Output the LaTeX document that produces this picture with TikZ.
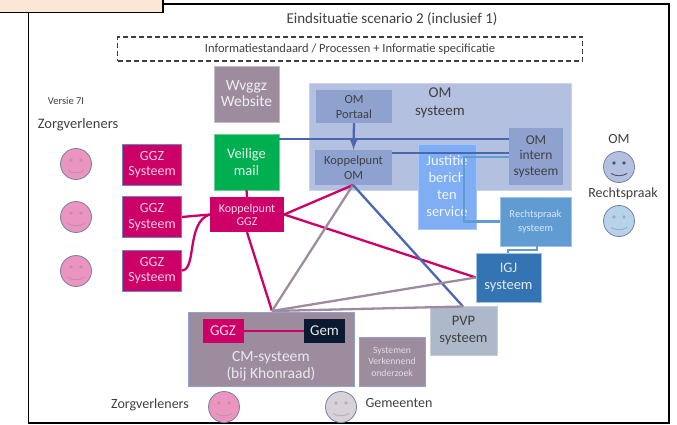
\documentclass[tikz,border=0pt]{standalone}
\usepackage{fontspec}
\setmainfont{Carlito}
\usetikzlibrary{calc}
\definecolor{ggzred}{HTML}{CC0066}
\definecolor{mailgreen}{HTML}{00B050}
\definecolor{cmgrey}{HTML}{9C8C9E}
\definecolor{ombg}{HTML}{B4C0DF}
\definecolor{ombox}{HTML}{8FA2CF}
\definecolor{omline}{HTML}{4A68B0}
\definecolor{justblue}{HTML}{7FAEF5}
\definecolor{rechtblue}{HTML}{609CD2}
\definecolor{igjblue}{HTML}{3474B2}
\definecolor{pvpgrey}{HTML}{ADB9CA}
\definecolor{gemdark}{HTML}{0B1A30}
\definecolor{txtgrey}{HTML}{404040}
\definecolor{notepeach}{HTML}{FCE6D6}
\tikzset{
  every node/.style={text=txtgrey, font=\fontsize{14}{16}\selectfont, align=center, inner sep=0pt},
  ggzbox/.style={draw=omline!80!white, line width=.7pt, minimum width=59pt, fill=ggzred, minimum height=41pt, text=white!80!ggzred, font=\fontsize{14}{15.5}\selectfont},
  ombx/.style={fill=ombox, text=black!75},
  redline/.style={ggzred, line width=2.3pt},
  greyline/.style={cmgrey, line width=2.3pt},
  blueline/.style={omline, line width=2.3pt},
  lblueline/.style={rechtblue, line width=2.2pt},
  smiley/.pic={
    \draw[fill=#1, draw=ombox!80!black, line width=.8pt] (0,0) circle (15.5pt);
    \fill[black!55!#1] (-5,-4) circle (1.8pt) (5,-4) circle (1.8pt);
    \draw[black!55!#1, line width=.9pt] (-8,6.5) .. controls (-3,9.5) and (3,9.5) .. (8,6.5);
  },
}
\begin{document}
\begin{tikzpicture}[x=1pt, y=-1pt]
  \useasboundingbox (0,0) rectangle (677,425);
  % outer frame and note
  \draw[black, line width=1.4pt] (28.5,0) -- (28.5,423) -- (669,423) -- (669,4) -- (28.5,4);
  \node[draw=black, line width=1.4pt, fill=notepeach, minimum width=170pt, minimum height=17pt] (note) at (78,4) {};
  \node[font=\fontsize{15}{17}\selectfont] (title) at (392,19) {Eindsituatie scenario 2 (inclusief 1)};
  \node[draw=txtgrey, dash pattern=on 5pt off 3pt, line width=1.1pt, minimum width=465pt, minimum height=24pt, font=\fontsize{12.5}{14}\selectfont] (info) at (350,49) {Informatiestandaard / Processen + Informatie specificatie};
  \node[font=\fontsize{10.5}{12}\selectfont] (versie) at (66,101) {Versie 7I};
  \node[font=\fontsize{14.5}{16}\selectfont] (zorgtop) at (78,125) {Zorgverleners};
  % om block
  \node[fill=ombg, draw=ombg!70!white, minimum width=262pt, minimum height=107pt] (omsys) at (440,137) {};
  \node[text=black!75, font=\fontsize{15}{17.5}\selectfont] (omlabel) at (440,103) {OM\\systeem};
  \node[ombx, minimum width=76pt, minimum height=33pt, font=\fontsize{12.5}{15}\selectfont] (omportaal) at (354,106.5) {OM\\Portaal};
  \node[ombx, minimum width=77pt, minimum height=35pt, font=\fontsize{12.5}{15}\selectfont] (koppelom) at (353.5,167.5) {Koppelpunt\\OM};
  \node[ombx, minimum width=54pt, minimum height=57pt, font=\fontsize{13.5}{15.5}\selectfont] (omintern) at (536,156.5) {OM\\intern\\systeem};
  \node[fill=justblue, draw=justblue!70!white, minimum width=58pt, minimum height=85pt, text=white!90!justblue, font=\fontsize{14.5}{17}\selectfont] (justitie) at (447,186.5) {Justitie\\berich\\ten\\service};
  \node[fill=rechtblue, draw=rechtblue!60!white, minimum width=71pt, minimum height=49pt, text=white!75!rechtblue, font=\fontsize{10.5}{13.5}\selectfont] (rechtsys) at (535.5,221.5) {Rechtspraak\\systeem};
  \node[fill=igjblue, draw=rechtblue!60!white, minimum width=65pt, minimum height=49pt, text=white!85!igjblue, font=\fontsize{14.5}{17}\selectfont] (igj) at (508.5,277.5) {IGJ\\systeem};
  \node[fill=pvpgrey, draw=pvpgrey!70!white, minimum width=67pt, minimum height=49pt, text=black!75, font=\fontsize{14.5}{17}\selectfont] (pvp) at (463.5,330.5) {PVP\\systeem};
  % left column
  \node[fill=cmgrey, draw=cmgrey!60!white, minimum width=65pt, minimum height=56pt, text=white!85!cmgrey, font=\fontsize{15.5}{16}\selectfont] (wvggz) at (246.5,94) {Wvggz\\Website};
  \node[fill=mailgreen, draw=mailgreen!60!white, minimum width=65pt, minimum height=56pt, text=white!90!mailgreen, font=\fontsize{14.5}{17}\selectfont] (mail) at (246.5,162) {Veilige\\mail};
  \node[ggzbox] (ggza) at (152,164.5) {GGZ\\Systeem};
  \node[ggzbox] (ggzb) at (152,217) {GGZ\\Systeem};
  \node[ggzbox] (ggzc) at (152,270.5) {GGZ\\Systeem};
  \node[fill=ggzred, minimum width=74pt, minimum height=35pt, text=white!85!ggzred, font=\fontsize{12}{13}\selectfont] (koppelggz) at (247,214.5) {Koppelpunt\\GGZ};
  % cm block
  \node[fill=cmgrey, draw=ombox, line width=.8pt, minimum width=166pt, minimum height=74pt] (cmsys) at (271,349) {};
  \node[text=white!80!cmgrey, font=\fontsize{15.5}{17}\selectfont] (cmlabel) at (271,366) {CM-systeem\\(bij Khonraad)};
  \node[fill=ggzred, minimum width=41pt, minimum height=24pt, text=white!85!ggzred, font=\fontsize{15}{16}\selectfont] (ggzcm) at (223,331) {GGZ};
  \node[fill=gemdark, minimum width=41pt, minimum height=24pt, text=white!90!gemdark, font=\fontsize{15}{16}\selectfont] (gem) at (324.5,331) {Gem};
  \node[fill=cmgrey, draw=ombox, line width=.8pt, minimum width=66pt, minimum height=49pt, text=white!70!cmgrey, font=\fontsize{9.7}{11.5}\selectfont] (verkennend) at (392,361.5) {Systemen\\Verkennend\\onderzoek};
  % smileys
  \pic at (76,164) {smiley=ggzred!42!white};
  \pic at (76,217) {smiley=ggzred!42!white};
  \pic at (76,271) {smiley=ggzred!42!white};
  \pic at (619,167) {smiley=ombg};
  \pic at (619,221) {smiley=rechtblue!45!white};
  \pic at (224,407) {smiley=ggzred!42!white};
  \pic at (341,407) {smiley=cmgrey!40!white};
  \node (omtxt) at (619,139) {OM};
  \node (recht) at (623,194) {Rechtspraak};
  \node (zorgbot) at (150,405) {Zorgverleners};
  \node (gemtxt) at (399,403) {Gemeenten};
  % connectors
  \coordinate (cmtop) at (272,311);
  \coordinate (pvptop) at (463,306.5);
  \coordinate (kombot) at (353,185);
  \draw[redline] (mail.south) -- (koppelggz.north);
  \draw[redline] (ggzb.east) -- (koppelggz.west);
  \draw[redline] (ggzc.east) .. controls (197,270) and (186,222) .. (koppelggz.west);
  \draw[redline] (koppelggz.east) -- (kombot);
  \draw[redline] (koppelggz.east) -- (igj.west);
  \draw[redline] (koppelggz.south) -- (cmtop);
  \draw[greyline] (cmtop) -- (kombot);
  \draw[blueline] (kombot) -- (pvptop);
  \draw[greyline] (cmtop) -- (igj.west);
  \draw[greyline] (cmtop) -- (pvptop);
  \draw[redline] (ggzcm.east) -- (gem.west);
  \draw[blueline] (mail.east |- 0,139) -- (omintern.west |- 0,139);
  \draw[blueline] (koppelom.east |- 0,153) -- (omintern.west |- 0,153);
  \draw[blueline, -latex] (omportaal.south) -- (koppelom.north);
  \draw[lblueline] (omintern.west |- 0,157) -- (464,157) -- (464,221.5) -- (rechtsys.west);
  \draw[lblueline, line width=1.6pt] (537,246) -- (537,250) -- (508,250) -- (508,253);
\end{tikzpicture}
\end{document}
